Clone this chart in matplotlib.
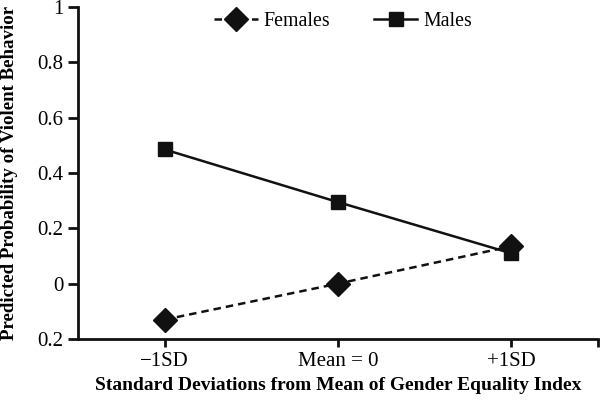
import matplotlib.pyplot as plt

plt.rcParams['font.family'] = ['Liberation Serif', 'DejaVu Serif']

categories = ['\u22121SD', 'Mean = 0', '+1SD']
females = [-0.13, 0.0, 0.135]
males = [0.485, 0.295, 0.11]
yticks = [-0.2, 0, 0.2, 0.4, 0.6, 0.8, 1.0]
ytick_labels = ['0.2', '0', '0.2', '0.4', '0.6', '0.8', '1']

fig = plt.figure(figsize=(6, 4.01), dpi=100)
ax = fig.add_axes([0.13, 0.1546, 0.866, 0.828])

x = range(len(categories))
ax.plot(x, females, linestyle=(0, (3, 2)), color='#111111', lw=1.8,
        marker='D', markersize=12, label='Females')
ax.plot(x, males, linestyle='-', color='#111111', lw=1.8,
        marker='s', markersize=10, label='Males')

ax.set_xlim(-0.5, 2.5)
ax.set_ylim(-0.2, 1.0)
ax.set_xticks([0, 1, 2, 2.5])
ax.set_xticklabels(categories + [''], fontsize=15)
ax.set_yticks(yticks)
ax.set_yticklabels(ytick_labels, fontsize=15)
ax.tick_params(axis='y', direction='out', length=7, width=2, color='#111111')
ax.tick_params(axis='x', direction='out', length=6, width=2, color='#111111')

for s in ['top', 'right']:
    ax.spines[s].set_visible(False)
for s in ['left', 'bottom']:
    ax.spines[s].set_linewidth(2)
    ax.spines[s].set_color('#111111')

ax.set_xlabel('Standard Deviations from Mean of Gender Equality Index',
              fontsize=14, fontweight='bold', labelpad=4)
ax.set_ylabel('Predicted Probability of Violent Behavior',
              fontsize=13.6, fontweight='bold')
ax.yaxis.set_label_coords(-0.116, 0.5)

ax.legend(loc='upper center', bbox_to_anchor=(0.51, 1.04), ncol=2,
          frameon=False, fontsize=14.3, handlelength=2.2, columnspacing=2.2,
          handletextpad=0.3)

fig.savefig('out.png', dpi=100)
